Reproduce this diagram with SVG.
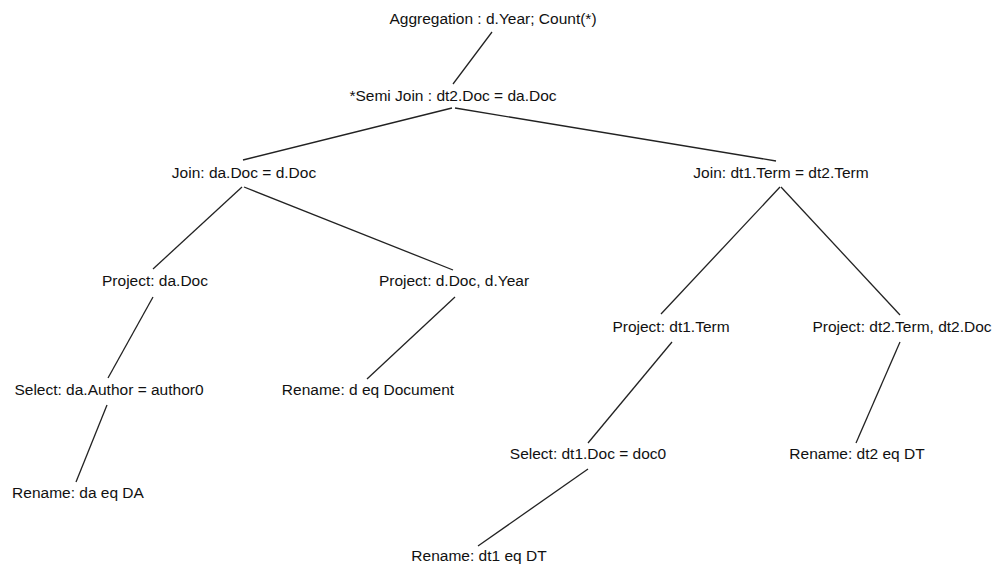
<svg xmlns="http://www.w3.org/2000/svg" width="998" height="567" viewBox="0 0 998 567">
  <style>
    .lbl { font-family: "Liberation Sans", Arial, sans-serif; font-size: 15.5px; fill: #111; text-anchor: middle; }
    .edge { stroke: #222; stroke-width: 1.3; fill: none; }
  </style>
  <rect width="998" height="567" fill="#fff"/>

  <!-- tree edges -->
  <g id="connectors">
    <line class="edge" x1="492" y1="32" x2="453" y2="84"/>
    <line class="edge" x1="452" y1="108" x2="243" y2="160"/>
    <line class="edge" x1="455" y1="108" x2="776" y2="161"/>
    <line class="edge" x1="242" y1="187" x2="153" y2="269"/>
    <line class="edge" x1="244" y1="187" x2="453" y2="270"/>
    <line class="edge" x1="780" y1="187" x2="661" y2="314"/>
    <line class="edge" x1="781" y1="187" x2="900" y2="315"/>
    <line class="edge" x1="153" y1="297" x2="108" y2="378"/>
    <line class="edge" x1="455" y1="297" x2="367" y2="379"/>
    <line class="edge" x1="107" y1="405" x2="76" y2="482"/>
    <line class="edge" x1="672" y1="342" x2="588" y2="443"/>
    <line class="edge" x1="900" y1="342" x2="856" y2="443"/>
    <line class="edge" x1="588" y1="469" x2="478" y2="546"/>
  </g>

  <!-- operator nodes -->
  <g id="aggregation"><text class="lbl" x="493" y="24">Aggregation : d.Year; Count(*)</text></g>
  <g id="semijoin"><text class="lbl" x="453" y="101">*Semi Join : dt2.Doc = da.Doc</text></g>
  <g id="join-da-d"><text class="lbl" x="244" y="178">Join: da.Doc = d.Doc</text></g>
  <g id="join-dt1-dt2"><text class="lbl" x="781" y="178">Join: dt1.Term = dt2.Term</text></g>
  <g id="project-da"><text class="lbl" x="155" y="286">Project: da.Doc</text></g>
  <g id="project-d"><text class="lbl" x="454" y="286">Project: d.Doc, d.Year</text></g>
  <g id="project-dt1"><text class="lbl" x="671" y="332">Project: dt1.Term</text></g>
  <g id="project-dt2"><text class="lbl" x="902" y="332">Project: dt2.Term, dt2.Doc</text></g>
  <g id="select-da"><text class="lbl" x="109" y="395">Select: da.Author = author0</text></g>
  <g id="rename-d"><text class="lbl" x="368" y="395">Rename: d eq Document</text></g>
  <g id="select-dt1"><text class="lbl" x="588" y="459">Select: dt1.Doc = doc0</text></g>
  <g id="rename-dt2"><text class="lbl" x="857" y="459">Rename: dt2 eq DT</text></g>
  <g id="rename-da"><text class="lbl" x="78" y="498">Rename: da eq DA</text></g>
  <g id="rename-dt1"><text class="lbl" x="479" y="561">Rename: dt1 eq DT</text></g>
</svg>
